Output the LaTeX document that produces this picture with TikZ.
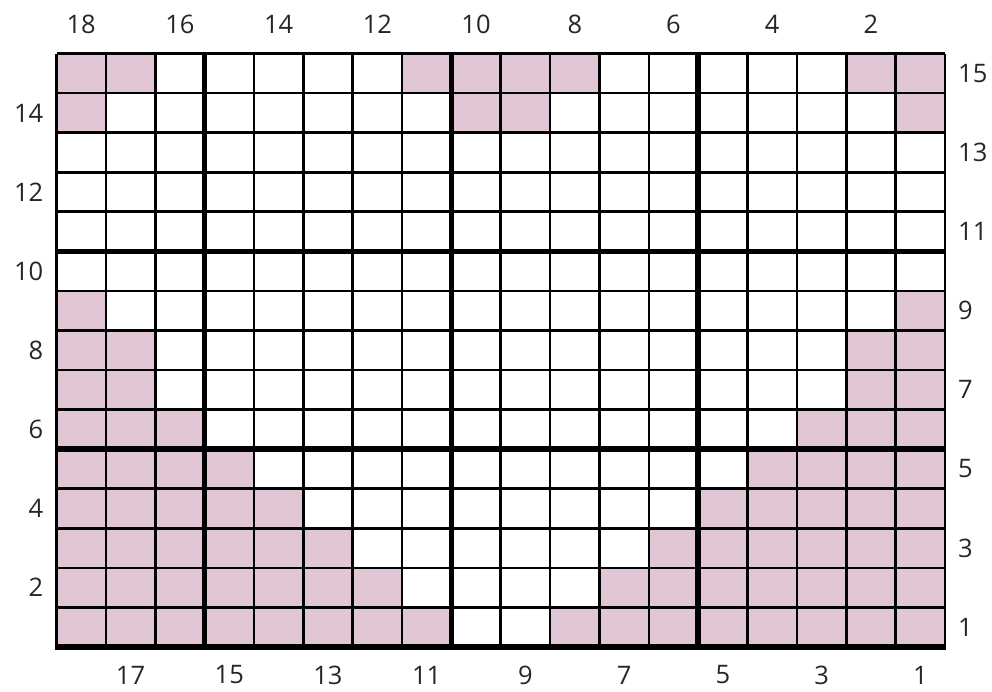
\documentclass[tikz,border=0pt]{standalone}
\usepackage{fontspec}
\setmainfont{Open Sans}
\definecolor{knitpink}{RGB}{225,199,213}
\begin{document}
\begin{tikzpicture}[x=1pt,y=-1pt,
  thinline/.style={line width=2.6pt,black},
  thickline/.style={line width=5.6pt,black},
  numlabel/.style={inner sep=0pt,font=\fontsize{25.5}{25.5}\selectfont,text=black!85}]
\useasboundingbox (0,0) rectangle (992,691);
\def\cw{49.361}
\def\ch{39.567}
% pink cells: row / count on each side
\foreach \r/\n in {1/8,2/7,3/6,4/5,5/4,6/3,7/2,8/2,9/1,14/1,15/2}{
  \fill[knitpink] (56.5,{53.5+\ch*(15-\r)}) rectangle ({56.5+\cw*\n},{53.5+\ch*(16-\r)});
  \fill[knitpink] ({945-\cw*\n},{53.5+\ch*(15-\r)}) rectangle (945,{53.5+\ch*(16-\r)});
}
\fill[knitpink] ({56.5+\cw*8},{53.5}) rectangle ({56.5+\cw*10},{53.5+\ch*2});
\fill[knitpink] ({56.5+\cw*7},{53.5}) rectangle ({56.5+\cw*8},{53.5+\ch});
\fill[knitpink] ({56.5+\cw*10},{53.5}) rectangle ({56.5+\cw*11},{53.5+\ch});
% thin grid
\foreach \i in {0,...,18}{
  \draw[thinline] ({56.5+\cw*\i},53.5) -- ({56.5+\cw*\i},647);
}
\foreach \j in {0,...,15}{
  \draw[thinline] (56.5,{53.5+\ch*\j}) -- (945,{53.5+\ch*\j});
}
% thick lines
\foreach \i in {3,8,13}{
  \draw[thickline] ({56.5+\cw*\i},53.5) -- ({56.5+\cw*\i},647);
}
\foreach \j in {5,10}{
  \draw[thickline] (56.5,{53.5+\ch*\j}) -- (945,{53.5+\ch*\j});
}
\draw[thickline] (55.2,647) -- (946.3,647);
% column labels
\foreach \L in {1,3,...,17}{
  \pgfmathtruncatemacro{\c}{19-\L}
  \node[numlabel] (top\c) at ({56.5+\cw*(\L-0.5)},24.5) {\c};
}
\foreach \L in {2,4,...,18}{
  \pgfmathtruncatemacro{\c}{19-\L}
  \node[numlabel] (bot\c) at ({56.5+\cw*(\L-0.5)},675) {\c};
}
% row labels
\foreach \r in {2,4,...,14}{
  \node[numlabel,anchor=east] (left\r) at (43.5,{53.5+\ch*(15.5-\r)}) {\r};
}
\foreach \r in {1,3,...,15}{
  \node[numlabel,anchor=west] (right\r) at (958,{53.5+\ch*(15.5-\r)}) {\r};
}
\end{tikzpicture}
\end{document}
